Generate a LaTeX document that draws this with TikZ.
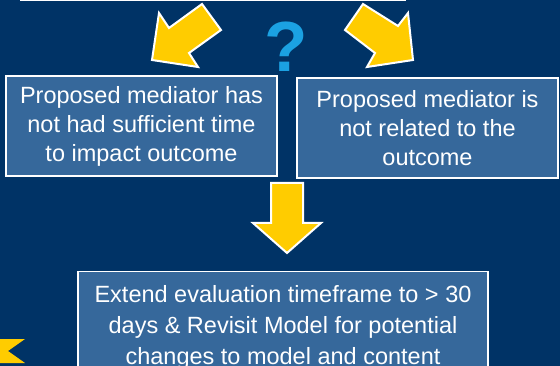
\documentclass[tikz,border=0pt]{standalone}
\usepackage{fontspec}
\setmainfont{Liberation Sans}
\definecolor{navy}{RGB}{0,51,102}
\definecolor{boxblue}{RGB}{54,104,155}
\definecolor{arrowyellow}{RGB}{255,204,0}
\definecolor{qblue}{RGB}{27,161,226}

\begin{document}
\begin{tikzpicture}[x=1pt, y=-1pt, every text node part/.style={align=center},
    box/.style={draw=white, line width=1.5pt, fill=boxblue, text=white, inner sep=0pt,
      font=\fontsize{23.5}{29}\selectfont},
    blockarrow/.style={fill=arrowyellow, draw=white, line width=2pt, line join=miter}]
    \fill[navy] (0, 0) rectangle (560, 366);
    \useasboundingbox (0, 0) rectangle (560, 366);
    \clip (0, 0) rectangle (560, 366);
    \draw[white, line width=1.5pt] (20, 0.75) -- (406, 0.75);
    \node (q) [text=qblue, font=\fontsize{71}{71}\selectfont\bfseries] at (286, 47) {?};
    \node (a) [box, minimum width=271, minimum height=100] at (141.5, 126) {Proposed mediator has \\ not had sufficient time \\ to impact outcome};
    \node (b) [box, minimum width=261, minimum height=100] at (427.5, 128) {Proposed mediator is \\ not related to the \\ outcome};
    \node (c) [box, minimum width=410, minimum height=112, anchor=north,
      font=\fontsize{23.5}{31}\selectfont] at (283, 271) {Extend evaluation timeframe to > 30 \\ days \& Revisit Model for potential \\ changes to model and content};
    % block arrows
    \draw[blockarrow] (202, 4) -- (221, 30) -- (189, 53) -- (198, 67) -- (152, 60) -- (159, 13) -- (169, 28) -- cycle;
    \draw[blockarrow] (363, 4) -- (398, 26) -- (408, 13) -- (413, 60) -- (367, 67) -- (375, 53) -- (345, 30) -- cycle;
    \draw[blockarrow] (271, 183) -- (303, 183) -- (303, 223) -- (321, 223) -- (287, 253) -- (253, 223) -- (271, 223) -- cycle;
    \fill[arrowyellow] (0, 339) -- (25, 339) -- (8, 351) -- (25, 363) -- (0, 363) -- cycle;
  \end{tikzpicture}
\end{document}
